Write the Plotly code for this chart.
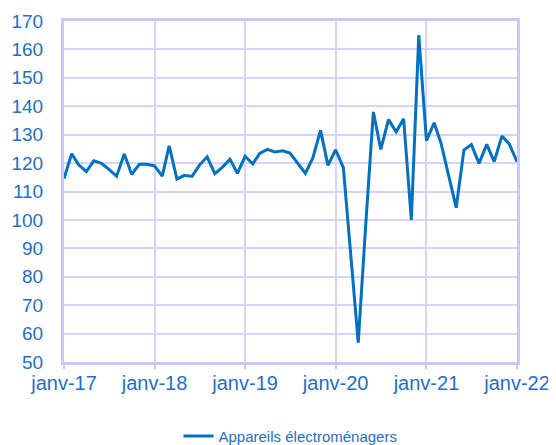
import pandas as pd
import plotly.graph_objects as go

months = pd.date_range("2017-01-01", "2022-01-01", freq="MS")
values = [
    114.6, 123.3, 119.4, 117.0, 120.8, 119.9, 117.8, 115.4, 123.2, 116.0, 119.6, 119.6,
    119.0, 115.4, 126.1, 114.4, 115.7, 115.3, 119.3, 122.2, 116.3, 118.5, 121.3, 116.4,
    122.4, 119.7, 123.4, 124.8, 123.9, 124.3, 123.5, 119.9, 116.4, 121.8, 131.5, 119.2,
    124.7, 118.4, 88.0, 56.8, 98.0, 138.0, 124.8, 135.3, 131.0, 135.6, 100.0, 165.0,
    127.9, 134.2, 126.9, 115.5, 104.3, 124.6, 126.5, 119.9, 126.6, 120.5, 129.5, 126.7,
    120.5,
]
series_name = "Appareils électroménagers"
tick_dates = ["2017-01-01", "2018-01-01", "2019-01-01", "2020-01-01", "2021-01-01", "2022-01-01"]
tick_labels = ["janv-17", "janv-18", "janv-19", "janv-20", "janv-21", "janv-22"]
y_ticks = list(range(50, 171, 10))

text_color = "#1F6FC4"
grid_color = "#D4D4FF"
axis_color = "#C8C8FA"

fig = go.Figure()
fig.add_trace(go.Scatter(
    x=months, y=values, mode="lines", name=series_name,
    line=dict(color="#0070C0", width=3),
))

fig.update_layout(
    width=548, height=437,
    margin=dict(l=56, r=39, t=13, b=83, autoexpand=False),
    paper_bgcolor="white", plot_bgcolor="white",
    font=dict(family="Liberation Sans, Arial, sans-serif", color=text_color, size=18),
    showlegend=True,
    legend=dict(
        orientation="h", x=0.5, xanchor="center",
        yref="container", y=0.02, yanchor="middle",
        font=dict(size=15, color=text_color),
    ),
)
fig.update_xaxes(
    type="date", automargin=False,
    range=["2017-01-01", "2022-01-01"],
    tickvals=tick_dates, ticktext=tick_labels,
    showgrid=True, gridcolor=grid_color, gridwidth=1.5,
    showline=True, linecolor=axis_color, linewidth=3, mirror=True,
    ticks="outside", ticklen=4, tickcolor=axis_color, tickwidth=2,
    ticklabelstandoff=-3,
    tickfont=dict(size=20, color=text_color),
    zeroline=False,
)
fig.update_yaxes(
    automargin=False,
    range=[50, 170], tickvals=y_ticks,
    showgrid=True, gridcolor=grid_color, gridwidth=1.5,
    showline=True, linecolor=axis_color, linewidth=3, mirror=True,
    ticks="", ticklabelstandoff=14,
    tickfont=dict(size=19, color=text_color),
    zeroline=False,
)

fig.write_html("out.html")
